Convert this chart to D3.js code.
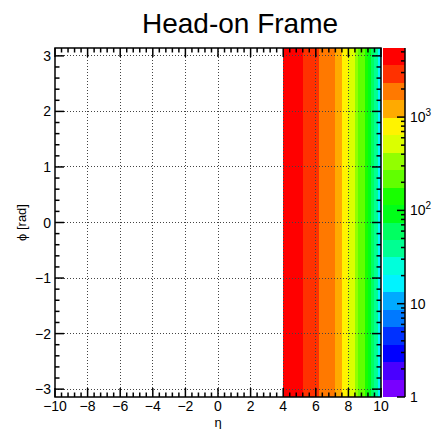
<!DOCTYPE html>
<html>
<head>
<meta charset="utf-8">
<script src="https://cdn.jsdelivr.net/npm/d3@7"></script>
<style>
  body { margin: 0; background: #fff; }
  text { font-family: "Liberation Sans", Arial, sans-serif; fill: #000; }
</style>
</head>
<body>
<div id="app"></div>
<script>
// eta bins (lower edges), 0.2 wide; content is flat in phi
const etaBinLow = [4.0, 4.2, 4.4, 4.6, 4.8, 5.0, 5.2, 5.4, 5.6, 5.8,
                   6.0, 6.2, 6.4, 6.6, 6.8, 7.0, 7.2, 7.4, 7.6, 7.8,
                   8.0, 8.2, 8.4, 8.6, 8.8, 9.0, 9.2, 9.4, 9.6, 9.8];
const etaBinWidth = 0.2;
const counts = [4500, 4450, 4350, 4250, 4100, 3800, 3300, 3050, 2800, 2550,
                2340, 2150, 2000, 1850, 1700, 1580, 1200, 990, 820, 680,
                520, 420, 330, 230, 180, 140, 95, 62, 32, 18];

const xTicks = [-10, -8, -6, -4, -2, 0, 2, 4, 6, 8, 10];
const yTicks = [-3, -2, -1, 0, 1, 2, 3];
const zTicks = [1, 10, 100, 1000];
const zMin = 1;
const zMax = 5500;
const nLevels = 20;

const width = 433;
const height = 429;
const frame = { left: 55, right: 381, top: 48, bottom: 397 };
const bar = { left: 383, right: 405 };

const svg = d3.select('#app').append('svg')
  .attr('width', width)
  .attr('height', height);

const x = d3.scaleLinear().domain([-10, 10]).range([frame.left, frame.right]);
const y = d3.scaleLinear().domain([-Math.PI, Math.PI]).range([frame.bottom, frame.top]);
const z = d3.scaleLog().domain([zMin, zMax]).range([frame.bottom, frame.top]);
const level = d3.scaleLog().domain([zMin, zMax]).range([0, nLevels]);

// old ROOT rainbow palette, 50 colours, 20 contours
const levelColor = k => {
  const idx = Math.floor((k + 0.99) * 50 / nLevels);
  return d3.hsl(280 - idx * 280 / 49, 1, 0.5).toString();
};
const colorOf = v => levelColor(Math.max(0, Math.min(nLevels - 1, Math.floor(level(v)))));

// cells
svg.append('g')
  .selectAll('rect')
  .data(etaBinLow)
  .join('rect')
  .attr('x', d => x(d))
  .attr('width', d => x(d + etaBinWidth) - x(d))
  .attr('y', y(Math.PI))
  .attr('height', y(-Math.PI) - y(Math.PI))
  .attr('fill', (d, i) => colorOf(counts[i]))
  .attr('shape-rendering', 'crispEdges');

// dotted grid
const grid = svg.append('g')
  .attr('stroke', '#444')
  .attr('stroke-width', 1)
  .attr('stroke-dasharray', '1,2')
  .attr('shape-rendering', 'crispEdges');

grid.selectAll('.gx')
  .data(xTicks.slice(1, -1))
  .join('line')
  .attr('x1', d => x(d)).attr('x2', d => x(d))
  .attr('y1', frame.top).attr('y2', frame.bottom);

grid.selectAll('.gy')
  .data(yTicks)
  .join('line')
  .attr('y1', d => y(d)).attr('y2', d => y(d))
  .attr('x1', frame.left).attr('x2', frame.right);

// axes ticks on all four sides, pointing inward
const ticks = svg.append('g')
  .attr('stroke', '#000')
  .attr('stroke-width', 1.5);

const xMinor = d3.range(-10, 10.001, 0.4).map(v => +v.toFixed(1));
const yMinor = d3.range(-3.2, 3.201, 0.2).map(v => +v.toFixed(1))
  .filter(v => Math.abs(v) <= Math.PI);

xMinor.forEach(v => {
  const major = xTicks.includes(v);
  const len = major ? 9 : 4.5;
  ticks.append('line')
    .attr('x1', x(v)).attr('x2', x(v))
    .attr('y1', frame.bottom).attr('y2', frame.bottom - len);
  ticks.append('line')
    .attr('x1', x(v)).attr('x2', x(v))
    .attr('y1', frame.top).attr('y2', frame.top + len);
});

yMinor.forEach(v => {
  const major = yTicks.includes(v);
  const len = major ? 9 : 4.5;
  ticks.append('line')
    .attr('y1', y(v)).attr('y2', y(v))
    .attr('x1', frame.left).attr('x2', frame.left + len);
  ticks.append('line')
    .attr('y1', y(v)).attr('y2', y(v))
    .attr('x1', frame.right).attr('x2', frame.right - len);
});

svg.append('rect')
  .attr('x', frame.left)
  .attr('y', frame.top)
  .attr('width', frame.right - frame.left)
  .attr('height', frame.bottom - frame.top)
  .attr('fill', 'none')
  .attr('stroke', '#000')
  .attr('stroke-width', 1.5);

const fmt = d3.format('');

svg.append('g')
  .selectAll('text')
  .data(xTicks)
  .join('text')
  .attr('x', d => x(d))
  .attr('y', 411)
  .attr('text-anchor', 'middle')
  .attr('font-size', 14)
  .text(d => fmt(d));

svg.append('g')
  .selectAll('text')
  .data(yTicks)
  .join('text')
  .attr('x', frame.left - 4)
  .attr('y', d => y(d) + 5)
  .attr('text-anchor', 'end')
  .attr('font-size', 14)
  .text(d => fmt(d));

svg.append('text')
  .attr('x', x(0))
  .attr('y', 427)
  .attr('text-anchor', 'middle')
  .attr('font-size', 13)
  .text('η');

svg.append('text')
  .attr('transform', `translate(26, ${y(0)}) rotate(-90)`)
  .attr('text-anchor', 'middle')
  .attr('font-size', 13)
  .text('ϕ [rad]');

// title
svg.append('text')
  .attr('x', 240)
  .attr('y', 33)
  .attr('text-anchor', 'middle')
  .attr('font-size', 28)
  .text('Head-on Frame');

// colour bar
const bands = d3.range(nLevels);
svg.append('g')
  .selectAll('rect')
  .data(bands)
  .join('rect')
  .attr('x', bar.left)
  .attr('width', bar.right - bar.left)
  .attr('y', k => z(level.invert(k + 1)))
  .attr('height', k => z(level.invert(k)) - z(level.invert(k + 1)))
  .attr('fill', k => levelColor(k))
  .attr('shape-rendering', 'crispEdges');

const zMinor = [];
[1, 10, 100, 1000].forEach(dec => {
  for (let m = 1; m <= 9; m++) {
    const v = m * dec;
    if (v <= zMax) zMinor.push(v);
  }
});

const zAxis = svg.append('g')
  .attr('stroke', '#000')
  .attr('stroke-width', 1.5);

zAxis.append('line')
  .attr('x1', bar.right).attr('x2', bar.right)
  .attr('y1', frame.top).attr('y2', frame.bottom);

zMinor.forEach(v => {
  const len = zTicks.includes(v) ? 8 : 4;
  zAxis.append('line')
    .attr('x1', bar.right).attr('x2', bar.right - len)
    .attr('y1', z(v)).attr('y2', z(v));
});

const zLabels = svg.append('g');
zTicks.forEach(v => {
  const t = zLabels.append('text')
    .attr('x', 410)
    .attr('y', z(v) + 5)
    .attr('font-size', 14);
  const p = Math.round(Math.log10(v));
  if (p === 0) t.text('1');
  else if (p === 1) t.text('10');
  else {
    t.append('tspan').text('10');
    t.append('tspan').attr('dy', -6).attr('font-size', 10).text(p);
  }
});
</script>
</body>
</html>
